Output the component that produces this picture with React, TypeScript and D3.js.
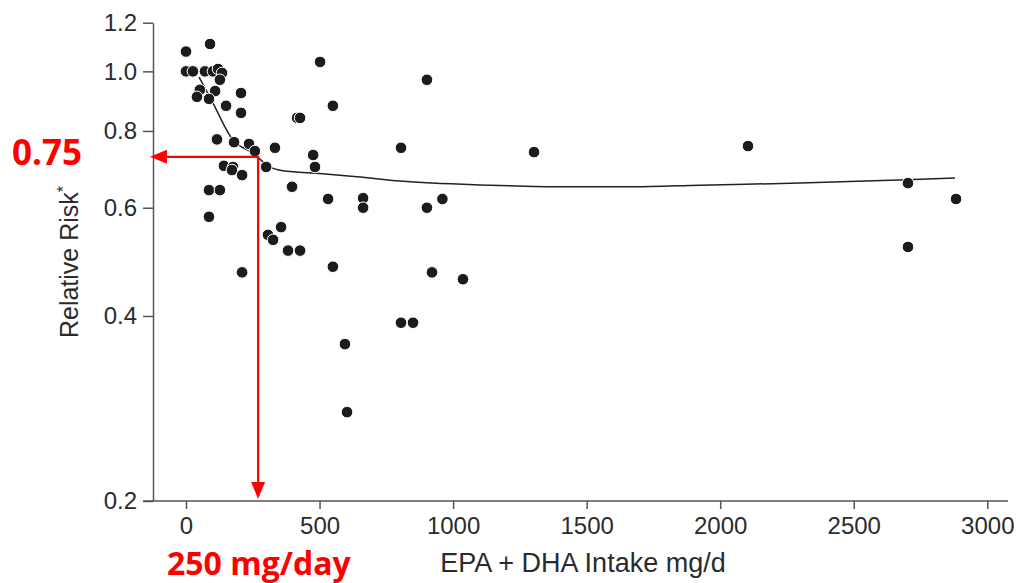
import React, { useEffect, useRef } from 'react';
import * as d3 from 'd3';

// study points: EPA+DHA intake (mg/d) and relative risk
const intake = [0, 90, 0, 26, 71, 101, 120, 135, 127, 52, 41, 109, 86, 206, 150, 206, 416, 427, 550, 502, 902,
  116, 180, 236, 258, 333, 300, 142, 176, 172, 210, 86, 127, 86, 397, 356, 307, 326, 382, 427, 210,
  476, 483, 532, 663, 663, 805, 902, 960, 550, 921, 1037, 805, 850, 595, 603, 1303, 2104, 2703, 2883, 2703];
const risk = [1.077, 1.108, 1.0, 1.0, 1.0, 1.0, 1.009, 0.994, 0.969, 0.933, 0.909, 0.929, 0.902, 0.922, 0.879, 0.856, 0.84, 0.84, 0.879, 1.036, 0.969,
  0.775, 0.767, 0.762, 0.742, 0.751, 0.699, 0.702, 0.699, 0.691, 0.678, 0.641, 0.641, 0.58, 0.649, 0.558, 0.542, 0.532, 0.511, 0.511, 0.471,
  0.731, 0.699, 0.62, 0.622, 0.6, 0.751, 0.6, 0.62, 0.481, 0.471, 0.459, 0.39, 0.39, 0.36, 0.279, 0.739, 0.756, 0.658, 0.62, 0.518];

// fitted curve
const trendIntake = [49, 101, 176, 240, 266, 314, 363, 500, 640, 801, 1138, 1426, 1673, 1924, 2299, 2699, 2879];
const trendRisk = [0.979, 0.888, 0.773, 0.740, 0.726, 0.699, 0.689, 0.682, 0.674, 0.663, 0.653, 0.649, 0.649, 0.653, 0.658, 0.666, 0.671];

const xTicks = [0, 500, 1000, 1500, 2000, 2500, 3000];
const yTicks = [0.2, 0.4, 0.6, 0.8, 1.0, 1.2];

// red annotation
const markIntake = 270;
const markRisk = 0.726;
const markRiskLabel = '0.75';
const markIntakeLabel = '250 mg/day';

const width = 1022;
const height = 583;

function App() {
  const svgRef = useRef(null);

  useEffect(() => {
    const svg = d3.select(svgRef.current);
    svg.selectAll('*').remove();

    const x = d3.scaleLinear().domain([0, 3000]).range([186, 987.3]);
    const y = d3.scaleLog().domain([0.2, 1.2]).range([501, 22.7]);
    const axisColor = '#555';
    const textColor = '#2b2b2b';

    // y axis
    const yAxis = d3.axisLeft(y)
      .tickValues(yTicks)
      .tickFormat(d3.format('.1f'))
      .tickSize(10)
      .tickSizeOuter(0)
      .tickPadding(6);
    const gy = svg.append('g').attr('transform', 'translate(153,0)').call(yAxis);
    gy.select('.domain').attr('stroke', axisColor).attr('stroke-width', 1.5);
    gy.selectAll('.tick line').attr('stroke', axisColor).attr('stroke-width', 1.5);
    gy.selectAll('.tick text')
      .attr('font-family', 'Liberation Sans, Arial, sans-serif')
      .attr('font-size', 24)
      .attr('fill', textColor);

    // x axis
    const xAxis = d3.axisBottom(x)
      .tickValues(xTicks)
      .tickFormat(d3.format('d'))
      .tickSize(8)
      .tickSizeOuter(0)
      .tickPadding(8);
    const gx = svg.append('g').attr('transform', 'translate(0,501)').call(xAxis);
    gx.select('.domain').remove();
    gx.append('line')
      .attr('x1', 143).attr('x2', 1008)
      .attr('stroke', axisColor).attr('stroke-width', 1.5);
    gx.selectAll('.tick line').attr('stroke', axisColor).attr('stroke-width', 1.5);
    gx.selectAll('.tick text')
      .attr('font-family', 'Liberation Sans, Arial, sans-serif')
      .attr('font-size', 24)
      .attr('fill', textColor);

    // axis titles
    svg.append('text')
      .attr('x', 583).attr('y', 572)
      .attr('text-anchor', 'middle')
      .attr('font-family', 'Liberation Sans, Arial, sans-serif')
      .attr('font-size', 27)
      .attr('fill', textColor)
      .text('EPA + DHA Intake mg/d');

    const yTitle = svg.append('text')
      .attr('transform', 'translate(78,262) rotate(-90)')
      .attr('text-anchor', 'middle')
      .attr('font-family', 'Liberation Sans, Arial, sans-serif')
      .attr('font-size', 25)
      .attr('fill', textColor);
    yTitle.append('tspan').text('Relative Risk');
    yTitle.append('tspan').attr('font-size', 16).attr('dy', -9).text('*');

    // trend line
    const trend = trendIntake.map((d, i) => [d, trendRisk[i]]);
    const trendLine = d3.line()
      .x(d => x(d[0]))
      .y(d => y(d[1]))
      .curve(d3.curveMonotoneX);
    svg.append('path')
      .attr('d', trendLine(trend))
      .attr('fill', 'none')
      .attr('stroke', '#222')
      .attr('stroke-width', 1.5);

    // dots
    svg.append('g')
      .selectAll('circle')
      .data(intake.map((d, i) => [d, risk[i]]))
      .join('circle')
      .attr('cx', d => x(d[0]))
      .attr('cy', d => y(d[1]))
      .attr('r', 5.8)
      .attr('fill', '#1c1c1c')
      .attr('stroke', '#fff')
      .attr('stroke-width', 1);

    // red annotation
    const red = '#ff0000';
    const mx = x(markIntake);
    const my = y(markRisk);
    const left = 150;
    const bottom = 499;
    const head = 17;
    const half = 7;
    const ann = svg.append('g');
    ann.append('path')
      .attr('d', `M${mx},${bottom - head}V${my}H${left + head}`)
      .attr('fill', 'none')
      .attr('stroke', red)
      .attr('stroke-width', 2.2);
    ann.append('path')
      .attr('d', `M${left},${my}L${left + head},${my - half}L${left + head},${my + half}Z`)
      .attr('fill', red);
    ann.append('path')
      .attr('d', `M${mx},${bottom}L${mx - half},${bottom - head}L${mx + half},${bottom - head}Z`)
      .attr('fill', red);

    ann.append('text')
      .attr('x', 12).attr('y', 165)
      .attr('font-family', 'Open Sans, sans-serif')
      .attr('font-weight', 'bold')
      .attr('font-size', 35)
      .attr('fill', red)
      .text(markRiskLabel);
    ann.append('text')
      .attr('x', 167).attr('y', 575)
      .attr('font-family', 'Open Sans, sans-serif')
      .attr('font-weight', 'bold')
      .attr('font-size', 32)
      .attr('fill', red)
      .text(markIntakeLabel);
  }, []);

  return (
    <svg
      ref={svgRef}
      width={width}
      height={height}
      style={{ position: 'absolute', left: 0, top: 0, background: '#fff' }}
    />
  );
}

export default App;
